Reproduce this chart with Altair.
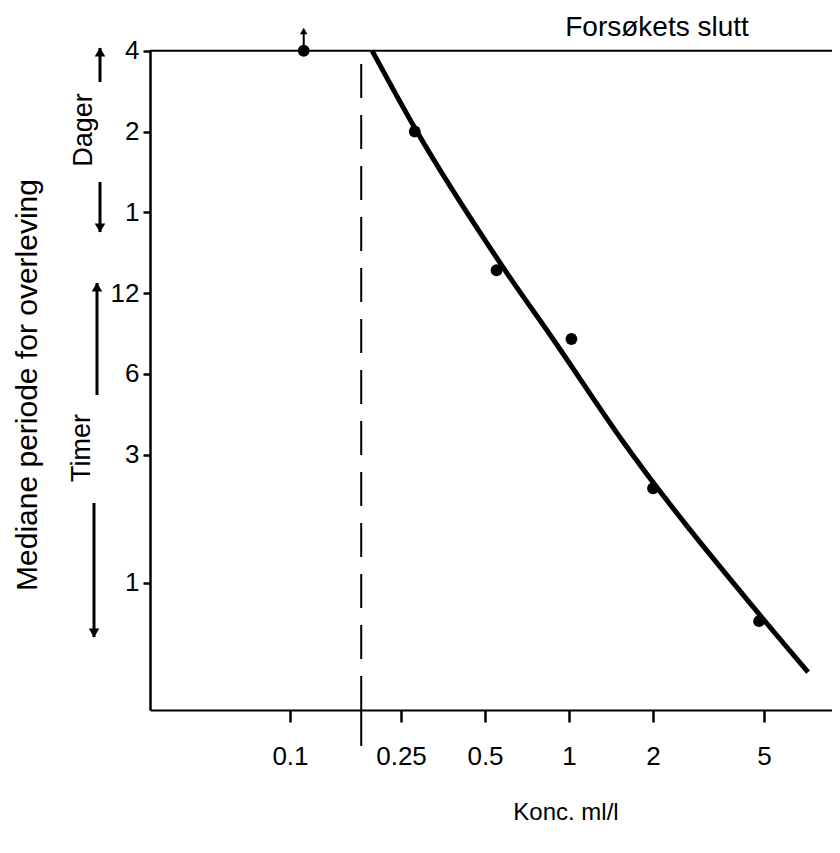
import altair as alt
import pandas as pd

# ---- data ----
obs_conc = [0.112, 0.28, 0.55, 1.02, 2.0, 4.8]
obs_hours = [96, 48, 14.6, 8.1, 2.25, 0.72]

fit_conc = [0.197, 0.283, 0.590, 0.876, 1.549, 4.80, 7.19]
fit_hours = [96, 48.6, 14.6, 8.1, 3.40, 0.765, 0.465]

x_ticks = [0.1, 0.25, 0.5, 1, 2, 5]
y_ticks = [96, 48, 24, 12, 6, 3, 1]
y_tick_labels = ["4", "2", "1", "12", "6", "3", "1"]

threshold_conc = 0.18
end_hours = 96
x_domain = [0.0315, 8.76]
y_domain = [0.336, 96.6]

W, H = 682, 660
FONT = "Liberation Sans"
FS = 26

obs = pd.DataFrame({"conc": obs_conc, "hours": obs_hours})
fit = pd.DataFrame({"conc": fit_conc, "hours": fit_hours})

label_map = "{" + ",".join(f"'{v}':'{l}'" for v, l in zip(y_ticks, y_tick_labels)) + "}"

xs = alt.Scale(type="log", domain=x_domain, nice=False, zero=False)
ys = alt.Scale(type="log", domain=y_domain, nice=False, zero=False)

x_axis = alt.Axis(values=x_ticks, title=None, grid=False, domainColor="black",
                  domainWidth=2, tickColor="black", tickWidth=2.5, tickSize=12,
                  labelFont=FONT, labelFontSize=FS, labelColor="black",
                  labelPadding=21, labelExpr="datum.value == 0.1 ? '0.1' : datum.label")
y_axis = alt.Axis(values=y_ticks, title=None, grid=False, domainColor="black",
                  domainWidth=2.5, tickColor="black", tickWidth=2.5, tickSize=7,
                  labelFont=FONT, labelFontSize=FS, labelColor="black", labelPadding=4,
                  labelExpr=f"{label_map}[datum.value + '']")

base_x = alt.X("conc:Q", scale=xs, axis=x_axis)
base_y = alt.Y("hours:Q", scale=ys, axis=y_axis)

curve = alt.Chart(fit).mark_line(color="black", strokeWidth=5, interpolate="monotone").encode(
    x=base_x, y=base_y)
points = alt.Chart(obs).mark_circle(color="black", size=140, opacity=1).encode(
    x="conc:Q", y="hours:Q")

top_line = alt.Chart(pd.DataFrame({"h": [end_hours]})).mark_rule(color="black", strokeWidth=2).encode(
    y="h:Q", x=alt.value(0), x2=alt.value(W + 10))

thr = pd.DataFrame({"c": [threshold_conc]})
dashed = alt.Chart(thr).mark_rule(color="black", strokeWidth=2, strokeDash=[34, 17]).encode(
    x="c:Q", y=alt.value(14), y2=alt.value(640))
thr_tick = alt.Chart(thr).mark_rule(color="black", strokeWidth=2).encode(
    x="c:Q", y=alt.value(640), y2=alt.value(696))

first = pd.DataFrame({"c": [obs_conc[0]], "h": [obs_hours[0]]})
up_stem = alt.Chart(first).mark_rule(color="black", strokeWidth=2).encode(
    x="c:Q", y="h:Q", y2=alt.value(-16))
up_head = alt.Chart(first).mark_point(shape="triangle-up", filled=True, color="black",
                                      size=55, opacity=1).encode(x="c:Q", y=alt.value(-19))

def vtext(txt, px, py, size=FS):
    return alt.Chart(pd.DataFrame({"t": [txt]})).mark_text(
        angle=270, font=FONT, fontSize=size, color="black", align="center", baseline="middle"
    ).encode(text="t:N", x=alt.value(px), y=alt.value(py))

def htext(txt, px, py, size=FS):
    return alt.Chart(pd.DataFrame({"t": [txt]})).mark_text(
        font=FONT, fontSize=size, color="black", align="center", baseline="middle"
    ).encode(text="t:N", x=alt.value(px), y=alt.value(py))

def arrow(px, y_from, y_to):
    d = pd.DataFrame({"a": [0]})
    stem = alt.Chart(d).mark_rule(color="black", strokeWidth=3).encode(
        x=alt.value(px), y=alt.value(y_from), y2=alt.value(y_to))
    shape = "triangle-up" if y_to < y_from else "triangle-down"
    off = 4 if y_to < y_from else -4
    head = alt.Chart(d).mark_point(shape=shape, filled=True, color="black", size=110, opacity=1).encode(
        x=alt.value(px), y=alt.value(y_to + off))
    return stem + head

layers = [
    top_line, dashed, thr_tick, curve, points, up_stem, up_head,
    htext("Forsøkets slutt", 507, -22, 28),
    htext("Konc. ml/l", 416, 763, 24),
    vtext("Mediane periode for overleving", -122, 335, 30),
    vtext("Dager", -66, 80, 27),
    arrow(-50, 32, -2), arrow(-50, 132, 182),
    vtext("Timer", -68, 398, 27),
    arrow(-53, 345, 233), arrow(-56, 453, 587),
]

chart = alt.layer(*layers).properties(
    width=W, height=H,
    autosize=alt.AutoSizeParams(type="none"),
    padding={"left": 142, "top": 42, "right": 0, "bottom": 140},
).configure_view(stroke=None).configure(background="white")

chart.save("out.html", embed_options={"renderer": "svg", "actions": False})
